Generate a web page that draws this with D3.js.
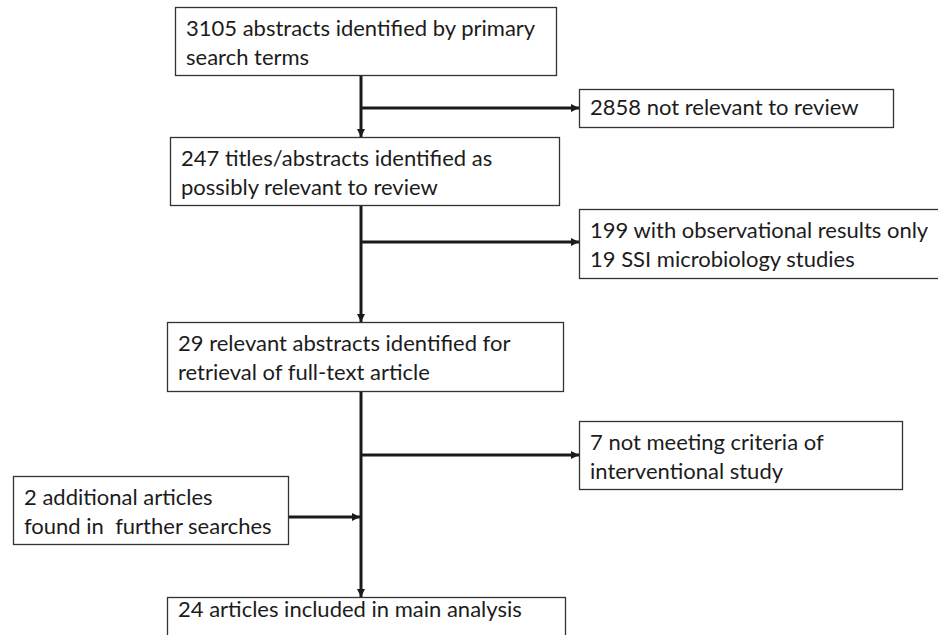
<!DOCTYPE html>
<html>
<head>
<script src="https://d3js.org/d3.v7.min.js"></script>
<style>
  body { margin: 0; background: #fff; }
  svg { display: block; }
  .box-text { font-family: Lato, "Open Sans", sans-serif; font-size: 22px; fill: #1c1c1c; }
</style>
</head>
<body>
<div id="chart"></div>
<script>
// flow steps (text lines of each box)
var mainSteps = [
  ["3105 abstracts identified by primary", "search terms"],
  ["247 titles/abstracts identified as", "possibly relevant to review"],
  ["29 relevant abstracts identified for", "retrieval of full-text article"],
  ["24 articles included in main analysis"]
];
var exclusions = [
  ["2858 not relevant to review"],
  ["199 with observational results only", "19 SSI microbiology studies"],
  ["7 not meeting criteria of", "interventional study"]
];
var additions = [
  ["2 additional articles", "found in  further searches"]
];

// layout of the boxes on the page
var width = 938, height = 635;
var spineX = 361;
var mainBoxes = [
  {x0: 175, x1: 556, y0: 7,   y1: 75,  pad: 29},
  {x0: 170, x1: 559, y0: 137, y1: 205, pad: 29},
  {x0: 167, x1: 563, y0: 322, y1: 391, pad: 29},
  {x0: 167, x1: 565, y0: 597, y1: 660, pad: 20}
];
var exclBoxes = [
  {x0: 579, x1: 893, y0: 89,  y1: 127, pad: 26, arrowY: 108},
  {x0: 579, x1: 950, y0: 209, y1: 278, pad: 29, arrowY: 242},
  {x0: 579, x1: 902, y0: 421, y1: 489, pad: 29, arrowY: 455}
];
var addBoxes = [
  {x0: 13, x1: 288, y0: 476, y1: 544, pad: 29, arrowY: 517}
];
var lineGap = 29, textPad = 11;

var svg = d3.select("#chart")
  .append("svg")
    .attr("width", width)
    .attr("height", height);

// arrowhead
svg.append("defs").append("marker")
    .attr("id", "head")
    .attr("markerUnits", "userSpaceOnUse")
    .attr("viewBox", "0 0 10 10")
    .attr("refX", 10)
    .attr("refY", 5)
    .attr("markerWidth", 9)
    .attr("markerHeight", 8)
    .attr("orient", "auto")
  .append("path")
    .attr("d", "M0,0L10,5L0,10Z")
    .attr("fill", "#1a1a1a");

function drawBoxes(cls, texts, boxes) {
  var g = svg.selectAll("g." + cls)
    .data(texts)
    .enter().append("g")
      .attr("class", cls);

  g.append("rect")
    .attr("x", function(d, i) { return boxes[i].x0 + 0.5; })
    .attr("y", function(d, i) { return boxes[i].y0 + 0.5; })
    .attr("width", function(d, i) { return boxes[i].x1 - boxes[i].x0; })
    .attr("height", function(d, i) { return boxes[i].y1 - boxes[i].y0; })
    .attr("fill", "#fff")
    .attr("stroke", "#333")
    .attr("stroke-width", 1.3);

  g.each(function(d, i) {
    var b = boxes[i];
    d3.select(this).selectAll("text")
      .data(d)
      .enter().append("text")
        .attr("class", "box-text")
        .attr("x", b.x0 + textPad)
        .attr("y", function(t, j) { return b.y0 + b.pad + j * lineGap; })
        .attr("xml:space", "preserve")
        .text(function(t) { return t; });
  });
}

var line = d3.line();
function arrow(points) {
  svg.append("path")
    .attr("d", line(points))
    .attr("fill", "none")
    .attr("stroke", "#1a1a1a")
    .attr("stroke-width", 3)
    .attr("marker-end", "url(#head)");
}

// vertical spine between main steps
for (var i = 0; i < mainBoxes.length - 1; i++) {
  arrow([[spineX, mainBoxes[i].y1], [spineX, mainBoxes[i + 1].y0]]);
}
// branches to exclusions
exclBoxes.forEach(function(b) {
  arrow([[spineX, b.arrowY], [b.x0, b.arrowY]]);
});
// additions joining the spine
addBoxes.forEach(function(b) {
  arrow([[b.x1, b.arrowY], [spineX - 1, b.arrowY]]);
});

drawBoxes("main", mainSteps, mainBoxes);
drawBoxes("excl", exclusions, exclBoxes);
drawBoxes("add", additions, addBoxes);
</script>
</body>
</html>
